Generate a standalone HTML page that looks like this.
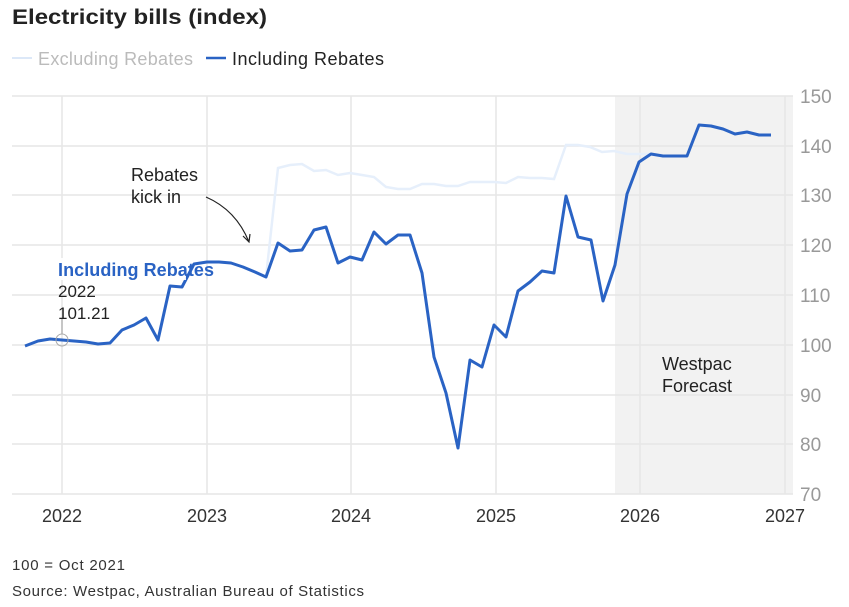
<!DOCTYPE html>
<html><head><meta charset="utf-8"><style>
body{margin:0;background:#fff;}
svg text{font-family:"Liberation Sans",sans-serif;}
</style></head><body>
<svg width="849" height="602" viewBox="0 0 849 602" xmlns="http://www.w3.org/2000/svg">
<rect width="849" height="602" fill="#fff"/>
<text x="12" y="24" font-size="21" font-weight="bold" fill="#222" textLength="255" lengthAdjust="spacingAndGlyphs">Electricity bills (index)</text>
<line x1="12" y1="58" x2="32" y2="58" stroke="#dce8f8" stroke-width="2"/>
<text x="38" y="65" font-size="18" fill="#bbb" textLength="155">Excluding Rebates</text>
<line x1="206" y1="58" x2="226" y2="58" stroke="#2a63c4" stroke-width="2.5"/>
<text x="232" y="65" font-size="18" fill="#222" textLength="152">Including Rebates</text>
<rect x="615" y="96" width="178" height="398" fill="#f2f2f2"/>
<g stroke="#e6e6e6" stroke-width="1.5">
<line x1="12" y1="96" x2="793" y2="96"/><line x1="12" y1="146" x2="793" y2="146"/>
<line x1="12" y1="195" x2="793" y2="195"/><line x1="12" y1="245" x2="793" y2="245"/>
<line x1="12" y1="295" x2="793" y2="295"/><line x1="12" y1="345" x2="793" y2="345"/>
<line x1="12" y1="395" x2="793" y2="395"/><line x1="12" y1="444" x2="793" y2="444"/>
<line x1="12" y1="494" x2="793" y2="494"/>
<line x1="62" y1="96" x2="62" y2="494"/><line x1="207" y1="96" x2="207" y2="494"/>
<line x1="351" y1="96" x2="351" y2="494"/><line x1="496" y1="96" x2="496" y2="494"/>
<line x1="640" y1="96" x2="640" y2="494"/><line x1="785" y1="96" x2="785" y2="494"/>
</g>
<g font-size="19" fill="#999">
<text x="800" y="103">150</text><text x="800" y="153">140</text><text x="800" y="202">130</text>
<text x="800" y="252">120</text><text x="800" y="302">110</text><text x="800" y="352">100</text>
<text x="800" y="402">90</text><text x="800" y="451">80</text><text x="800" y="501">70</text>
</g>
<g font-size="18" fill="#333" text-anchor="middle">
<text x="62" y="522">2022</text><text x="207" y="522">2023</text><text x="351" y="522">2024</text>
<text x="496" y="522">2025</text><text x="640" y="522">2026</text><text x="785" y="522">2027</text>
</g>
<polyline fill="none" stroke="#e6effb" stroke-width="2.5" points="266,277 278,168 290,165 302,164 314,171 326,170 338,175 350,173 362,175 374,177 386,187 398,189 410,189 422,184 434,184 446,186 458,186 470,182 482,182 494,182 506,183 518,177 530,178 542,178 554,179 566,145 578,145 590,147 602,152 614,151 627,154 639,154 651,154"/>
<polyline fill="none" stroke="#2a63c4" stroke-width="3" stroke-linejoin="round" points="25,346 38,341 50,339 62,340 74,341 86,342 98,344 110,343 122,330 134,325 146,318 158,340 170,286 182,287 194,264 207,262 219,262 231,263 243,267 255,272 266,277 278,243 290,251 302,250 314,230 326,227 338,263 350,257 362,260 374,232 386,244 398,235 410,235 422,273 434,357 446,393 458,448 470,360 482,367 494,325 506,337 518,291 530,282 542,271 554,273 566,196 578,237 591,240 603,301 615,265 627,194 639,162 651,154 663,156 675,156 687,156 699,125 711,126 723,129 735,134 747,132 759,135 771,135"/>
<line x1="62" y1="318" x2="62" y2="334" stroke="#999" stroke-width="1"/>
<circle cx="62" cy="340" r="6" fill="none" stroke="#aaa" stroke-width="1"/>
<rect x="56" y="258" width="130" height="22" fill="#fff" opacity="0.9"/>
<text x="58" y="276" font-size="18" font-weight="bold" fill="#2a63c4" textLength="156">Including Rebates</text>
<text x="58" y="297" font-size="17" fill="#222">2022</text>
<text x="58" y="319" font-size="17" fill="#222">101.21</text>
<text x="131" y="181" font-size="18" fill="#222">Rebates</text>
<text x="131" y="203" font-size="18" fill="#222">kick in</text>
<path d="M206,197 Q236,210 249,242" fill="none" stroke="#222" stroke-width="1.2"/>
<path d="M243,236 L249,242 L250,234" fill="none" stroke="#222" stroke-width="1.2"/>
<text x="662" y="370" font-size="18" fill="#222">Westpac</text>
<text x="662" y="392" font-size="18" fill="#222">Forecast</text>
<text x="12" y="570" font-size="15" fill="#333" textLength="113">100 = Oct 2021</text>
<text x="12" y="596" font-size="15" fill="#333" textLength="352">Source: Westpac, Australian Bureau of Statistics</text>
</svg>
</body></html>
